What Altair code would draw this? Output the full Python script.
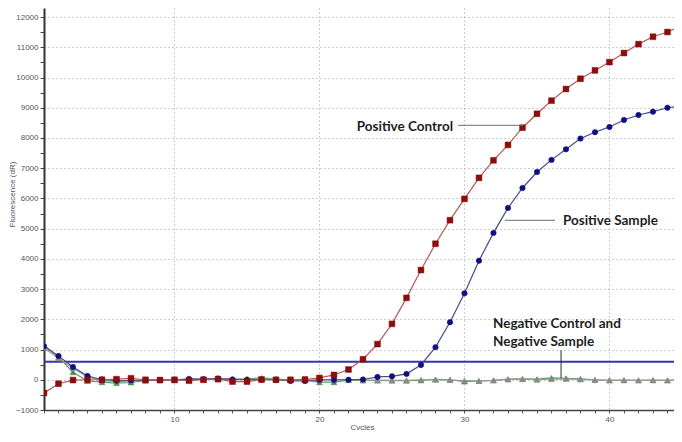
import altair as alt
import pandas as pd

cycles = list(range(1, 46))

positive_control = [-440, -130, -10, 0, 0, 20, 50, 0, -10, 0, -30, 0, 20, -60, -60,
                    10, 0, 0, 10, 60, 160, 340, 680, 1180, 1850, 2710, 3630, 4500, 5280, 5985,
                    6680, 7260, 7770, 8340, 8800, 9235, 9620, 9960, 10235, 10510, 10810, 11105,
                    11350, 11505, 11725]
positive_sample = [1110, 790, 425, 126, 10, -30, -20, -10, -10, 0, 30, 20, 40, 10, 0,
                   0, 0, -40, -40, 0, 0, 0, 10, 95, 115, 195, 490, 1080, 1905, 2860,
                   3940, 4860, 5685, 6345, 6875, 7275, 7625, 7980, 8190, 8365, 8595, 8760,
                   8870, 9000, 9070]
negative_control = [1140, 750, 250, -40, -80, -110, -90, -30, -10, -20, 0, 20, 30, 20, 30,
                    60, 20, 0, -20, -80, -80, -10, -20, -10, -20, -30, -20, 10, 0, -60,
                    -40, -20, 20, 30, 20, 60, 50, 30, 0, -20, -10, -20, -10, -20, 0]
negative_sample = [1050, 710, 380, 90, -20, -60, -40, -20, -10, -10, 10, 20, 30, 10, 10,
                   20, 10, 0, -10, -10, 0, 0, -20, -30, -30, -20, 0, 0, -10, -30,
                   -40, -20, 10, 20, 0, 20, 30, 10, -10, -20, -20, -20, -20, -20, -10]
threshold = 600

# visible cycle range (the reference crops just past cycle 44)
x_domain = [1, 44.45]
y_domain = [-1000, 12300]

# annotation texts and anchors (data coordinates)
ann_text = ["Positive Control", "Positive Sample", "Negative Control and", "Negative Sample"]
ann_cycle = [29.21, 36.79, 31.97, 31.97]
ann_value = [8363, 5253, 1836, 1250]
ann_align = ["right", "left", "left", "left"]

# leader lines
lead_c1 = [29.55, 32.79, 36.66]
lead_c2 = [34.03, 36.24, 36.66]
lead_v1 = [8419, 5276, 976]
lead_v2 = [8419, 5276, 50]
lead_color = ["#6e6e6e", "#6e6e6e", "#2a2a2a"]

series = [
    ("Negative Control", negative_control, "#5a9e5a", "#3f8f3f", "triangle-up", 34),
    ("Negative Sample", negative_sample, "#9a9a9a", "#8a8a8a", "triangle-up", 34),
    ("Positive Sample", positive_sample, "#4b4b8c", "#0f0f80", "circle", 30),
    ("Positive Control", positive_control, "#b25a5a", "#8b0d0d", "square", 34),
]

x_scale = alt.Scale(domain=x_domain, nice=False, zero=False)
y_scale = alt.Scale(domain=y_domain, nice=False, zero=False)

x_axis = alt.Axis(
    values=cycles[:44],
    tickCount=200,
    format="d",
    labelExpr="datum.value % 10 === 0 ? datum.label : ''",
    title="Cycles",
    grid=True,
    gridOpacity={"condition": {"test": "datum.value % 10 === 0", "value": 1}, "value": 0},
    gridDash=[1, 3], gridColor="#9a9a9a", gridWidth=1,
    domainColor="#444444", domainWidth=1.5,
    tickColor="#555555", tickSize=3, tickWidth=1,
    labelFont="Liberation Sans", labelFontSize=8, labelColor="#555555",
    labelPadding=2, labelOverlap=False, labelFlush=False,
    titleFont="Liberation Sans", titleFontSize=8, titleFontWeight="normal",
    titleColor="#555555", titleX=318, titleY=17, titleBaseline="middle",
)
y_axis = alt.Axis(
    values=list(range(-1000, 12001, 500)),
    tickCount=200,
    labelExpr="datum.value % 1000 === 0 ? datum.label : ''",
    format="d",
    title="Fluorescence (dR)",
    grid=True,
    gridOpacity={"condition": {"test": "datum.value % 1000 === 0", "value": 1}, "value": 0},
    gridDash=[1, 3], gridColor="#9a9a9a", gridWidth=1,
    domainColor="#333333", domainWidth=2,
    tickColor="#444444", tickSize=4, tickWidth=1,
    labelFont="Liberation Sans", labelFontSize=8, labelColor="#555555",
    labelPadding=2, labelOverlap=False, labelFlush=False,
    titleFont="Liberation Sans", titleFontSize=8, titleFontWeight="normal",
    titleColor="#555555", titleX=-32, titleY=186, titleAngle=-90,
    titleAlign="center", titleBaseline="middle",
)

layers = []
base_rows = []
for name, vals, _, _, _, _ in series:
    for c, v in zip(cycles, vals):
        base_rows.append({"cycle": c, "value": v, "series": name})
df_all = pd.DataFrame(base_rows)

# axis-carrying invisible layer
axis_layer = alt.Chart(df_all).mark_point(opacity=0, clip=True).encode(
    x=alt.X("cycle:Q", scale=x_scale, axis=x_axis),
    y=alt.Y("value:Q", scale=y_scale, axis=y_axis),
)
layers.append(axis_layer)

thr_layer = alt.Chart(pd.DataFrame({"value": [threshold]})).mark_rule(
    color="#3535a8", strokeWidth=2
).encode(y=alt.Y("value:Q", scale=y_scale))
layers.append(thr_layer)

for name, vals, line_col, mark_col, shape, size in series:
    d = pd.DataFrame({"cycle": cycles, "value": vals})
    ln = alt.Chart(d).mark_line(color=line_col, strokeWidth=1.2, clip=True).encode(
        x=alt.X("cycle:Q", scale=x_scale), y=alt.Y("value:Q", scale=y_scale)
    )
    pt = alt.Chart(d).mark_point(
        shape=shape, size=size, filled=True, color=mark_col, opacity=1, clip=True,
        stroke=mark_col, strokeWidth=0.5
    ).encode(x=alt.X("cycle:Q", scale=x_scale), y=alt.Y("value:Q", scale=y_scale))
    layers += [ln, pt]

lead_df = pd.DataFrame({"cycle": lead_c1, "cycle2": lead_c2, "value": lead_v1,
                        "value2": lead_v2, "col": lead_color})
lead_layer = alt.Chart(lead_df).mark_rule(strokeWidth=1).encode(
    x=alt.X("cycle:Q", scale=x_scale), x2="cycle2:Q",
    y=alt.Y("value:Q", scale=y_scale), y2="value2:Q",
    color=alt.Color("col:N", scale=None),
)
layers.append(lead_layer)

ann_df = pd.DataFrame({"cycle": ann_cycle, "value": ann_value, "text": ann_text, "align": ann_align})
for al in ["left", "right"]:
    t = alt.Chart(ann_df[ann_df["align"] == al]).mark_text(
        align=al, baseline="middle", font="Lato", fontWeight="bold", fontSize=13.5,
        color="#1e1e1e"
    ).encode(x=alt.X("cycle:Q", scale=x_scale), y=alt.Y("value:Q", scale=y_scale), text="text:N")
    layers.append(t)

chart = alt.layer(*layers).properties(
    width=630, height=402,
    autosize=alt.AutoSizeParams(type="none"),
    padding={"left": 36, "top": 0, "right": 0, "bottom": 20},
    background="white",
).configure_view(stroke=None)

chart.save("out.html", embed_options={"renderer": "svg", "actions": False})
